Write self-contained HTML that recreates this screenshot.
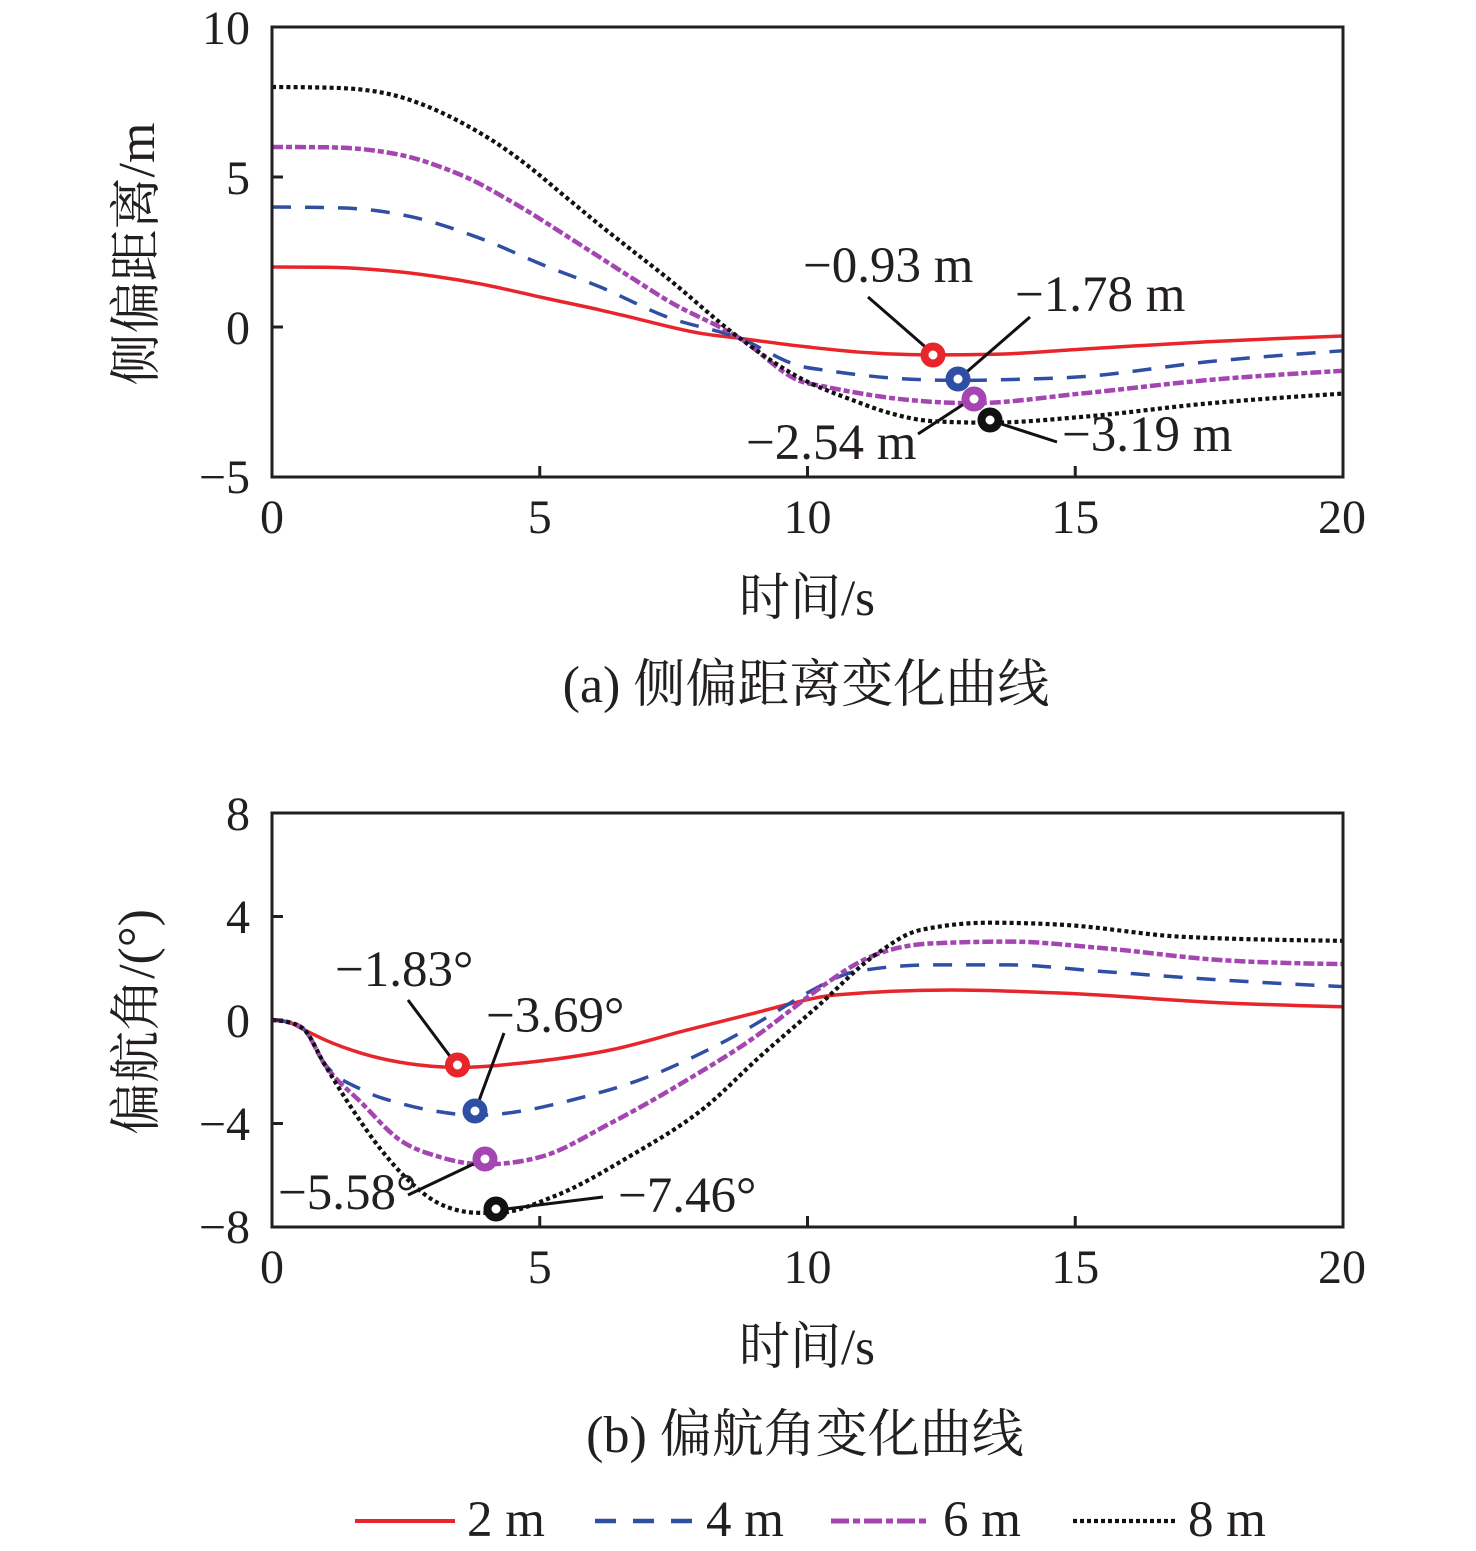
<!DOCTYPE html>
<html><head><meta charset="utf-8">
<style>
html,body{margin:0;padding:0;background:#fff;}
svg{display:block;}
text{font-family:"Liberation Serif","Noto Serif CJK SC",serif;fill:#231f20;}
.tk{font-size:48px;}
.an{font-size:51px;}
.lb{font-size:52px;}
.xl{font-size:51px;}
.cp{font-size:52px;}
.lg{font-size:51px;}
</style></head>
<body>
<svg width="1476" height="1551" viewBox="0 0 1476 1551">
<rect x="0" y="0" width="1476" height="1551" fill="#fff"/>

<!-- ===== TOP CHART ===== -->
<g fill="none" stroke-linejoin="round">
  <path id="t_red" stroke="#e8252a" stroke-width="3.5"/>
  <path id="t_blue" stroke="#2e4fa3" stroke-width="3.5" stroke-dasharray="19 14"/>
  <path id="t_pur" stroke="#a445b2" stroke-width="4.5" stroke-dasharray="11 3 6 3"/>
  <path id="t_blk" stroke="#111" stroke-width="4.2" stroke-dasharray="4 3.2"/>
</g>
<rect x="272" y="27" width="1071" height="450" fill="none" stroke="#231f20" stroke-width="3"/>
<g stroke="#231f20" stroke-width="3">
  <line x1="272" y1="177" x2="283" y2="177"/>
  <line x1="272" y1="327" x2="283" y2="327"/>
  <line x1="539.75" y1="477" x2="539.75" y2="466"/>
  <line x1="807.5" y1="477" x2="807.5" y2="466"/>
  <line x1="1075.25" y1="477" x2="1075.25" y2="466"/>
</g>
<g class="tk" text-anchor="end">
  <text x="250" y="44">10</text>
  <text x="250" y="194">5</text>
  <text x="250" y="344">0</text>
  <text x="250" y="493">−5</text>
</g>
<g class="tk" text-anchor="middle">
  <text x="272" y="533">0</text>
  <text x="539.75" y="533">5</text>
  <text x="807.5" y="533">10</text>
  <text x="1075.25" y="533">15</text>
  <text x="1342" y="533">20</text>
</g>
<text class="lb" text-anchor="middle" transform="translate(154,254) rotate(-90)">侧偏距离/m</text>
<text class="xl" x="807" y="615" text-anchor="middle">时间/s</text>
<text class="cp" x="806" y="702" text-anchor="middle">(a) 侧偏距离变化曲线</text>

<!-- annotations top -->
<g stroke="#111" stroke-width="3">
  <line x1="868" y1="297" x2="930" y2="351"/>
  <line x1="1030" y1="317" x2="962" y2="376"/>
  <line x1="918" y1="434" x2="970" y2="400"/>
  <line x1="992" y1="421" x2="1057" y2="442"/>
</g>
<g class="an">
  <text x="803" y="282">−0.93 m</text>
  <text x="1015" y="311">−1.78 m</text>
  <text x="746" y="459">−2.54 m</text>
  <text x="1062" y="451">−3.19 m</text>
</g>
<g fill="#fff" stroke-width="8">
  <circle cx="933" cy="355" r="8.5" stroke="#e8252a"/>
  <circle cx="958" cy="379" r="8.5" stroke="#2e4fa3"/>
  <circle cx="974" cy="399" r="8.5" stroke="#a445b2"/>
  <circle cx="990" cy="420" r="8.5" stroke="#111"/>
</g>

<!-- ===== BOTTOM CHART ===== -->
<g fill="none" stroke-linejoin="round">
  <path id="b_red" stroke="#e8252a" stroke-width="3.5"/>
  <path id="b_blue" stroke="#2e4fa3" stroke-width="3.5" stroke-dasharray="19 14"/>
  <path id="b_pur" stroke="#a445b2" stroke-width="4.5" stroke-dasharray="11 3 6 3"/>
  <path id="b_blk" stroke="#111" stroke-width="4.2" stroke-dasharray="4 3.2"/>
</g>
<rect x="272" y="813" width="1071" height="414" fill="none" stroke="#231f20" stroke-width="3"/>
<g stroke="#231f20" stroke-width="3">
  <line x1="272" y1="916.5" x2="283" y2="916.5"/>
  <line x1="272" y1="1020" x2="283" y2="1020"/>
  <line x1="272" y1="1123.5" x2="283" y2="1123.5"/>
  <line x1="539.75" y1="1227" x2="539.75" y2="1216"/>
  <line x1="807.5" y1="1227" x2="807.5" y2="1216"/>
  <line x1="1075.25" y1="1227" x2="1075.25" y2="1216"/>
</g>
<g class="tk" text-anchor="end">
  <text x="250" y="830">8</text>
  <text x="250" y="933">4</text>
  <text x="250" y="1037">0</text>
  <text x="250" y="1140">−4</text>
  <text x="250" y="1243">−8</text>
</g>
<g class="tk" text-anchor="middle">
  <text x="272" y="1283">0</text>
  <text x="539.75" y="1283">5</text>
  <text x="807.5" y="1283">10</text>
  <text x="1075.25" y="1283">15</text>
  <text x="1342" y="1283">20</text>
</g>
<text class="lb" text-anchor="middle" transform="translate(154,1022) rotate(-90)">偏航角/(°)</text>
<text class="xl" x="807" y="1364" text-anchor="middle">时间/s</text>
<text class="cp" x="805" y="1452" text-anchor="middle">(b) 偏航角变化曲线</text>

<!-- annotations bottom -->
<g stroke="#111" stroke-width="3">
  <line x1="408" y1="1000" x2="455" y2="1063"/>
  <line x1="504" y1="1033" x2="477" y2="1106"/>
  <line x1="408" y1="1195" x2="482" y2="1160"/>
  <line x1="498" y1="1210" x2="603" y2="1197"/>
</g>
<g class="an">
  <text x="335" y="986">−1.83°</text>
  <text x="486" y="1032">−3.69°</text>
  <text x="278" y="1209">−5.58°</text>
  <text x="618" y="1212">−7.46°</text>
</g>
<g fill="#fff" stroke-width="8">
  <circle cx="457.5" cy="1065" r="8.5" stroke="#e8252a"/>
  <circle cx="475" cy="1111" r="8.5" stroke="#2e4fa3"/>
  <circle cx="485" cy="1159" r="8.5" stroke="#a445b2"/>
  <circle cx="496" cy="1209" r="8.5" stroke="#111"/>
</g>

<!-- ===== LEGEND ===== -->
<line x1="355" y1="1521" x2="455" y2="1521" stroke="#e8252a" stroke-width="4"/>
<text class="lg" x="467" y="1536">2 m</text>
<line x1="595" y1="1521" x2="692" y2="1521" stroke="#2e4fa3" stroke-width="4.5" stroke-dasharray="21 17"/>
<text class="lg" x="706" y="1536">4 m</text>
<line x1="831" y1="1521" x2="928" y2="1521" stroke="#a445b2" stroke-width="5" stroke-dasharray="18 4 7 4"/>
<text class="lg" x="943" y="1536">6 m</text>
<line x1="1073" y1="1521" x2="1175" y2="1521" stroke="#111" stroke-width="4.2" stroke-dasharray="4 3"/>
<text class="lg" x="1188" y="1536">8 m</text>
</svg>

<script>
(function(){
  function X(t){return 272+t*53.55;}
  function YT(v){return 327-v*30;}
  function YB(v){return 1020-v*25.875;}
  function build(data,Y){
    var p=data.map(function(d){return [X(d[0]),Y(d[1])];});
    var n=p.length,h=[],s=[],m=[];
    for(var i=0;i<n-1;i++){h[i]=p[i+1][0]-p[i][0];s[i]=(p[i+1][1]-p[i][1])/h[i];}
    for(var i=1;i<n-1;i++){
      var q=(s[i-1]*h[i]+s[i]*h[i-1])/(h[i-1]+h[i]);
      m[i]=(Math.sign(s[i-1])+Math.sign(s[i]))*Math.min(Math.abs(s[i-1]),Math.abs(s[i]),0.5*Math.abs(q))||0;
    }
    m[0]=n>2?(3*s[0]-m[1])/2:s[0];
    m[n-1]=n>2?(3*s[n-2]-m[n-2])/2:s[n-2];
    var d="M"+p[0][0].toFixed(1)+","+p[0][1].toFixed(1);
    for(var i=0;i<n-1;i++){
      var dx=h[i]/3;
      d+="C"+(p[i][0]+dx).toFixed(1)+","+(p[i][1]+dx*m[i]).toFixed(1)+" "+
         (p[i+1][0]-dx).toFixed(1)+","+(p[i+1][1]-dx*m[i+1]).toFixed(1)+" "+
         p[i+1][0].toFixed(1)+","+p[i+1][1].toFixed(1);
    }
    return d;
  }
  var T={
    t_red:[[0,2],[1,1.99],[2,1.9],[3,1.7],[3.88,1.44],[5.13,0.95],[6.12,0.57],[6.69,0.33],[8,-0.21],[8.74,-0.38],[9.97,-0.66],[11.15,-0.86],[12.34,-0.93],[13.5,-0.91],[15.1,-0.74],[17.47,-0.49],[20,-0.3]],
    t_blue:[[0,4],[1.27,3.97],[2.64,3.66],[3.88,2.96],[5.13,2.02],[6.12,1.34],[7.37,0.34],[8.74,-0.38],[9.86,-1.3],[10.36,-1.45],[11.73,-1.72],[12.79,-1.78],[14,-1.74],[15.1,-1.66],[17.47,-1.16],[20,-0.79]],
    t_pur:[[0,6],[1.02,5.99],[1.96,5.87],[2.58,5.66],[3.2,5.3],[3.64,4.98],[4.5,4.15],[5.75,2.75],[6.69,1.67],[7.37,0.9],[8.74,-0.38],[9.86,-1.8],[10.36,-2.0],[11.94,-2.44],[13.09,-2.54],[15.1,-2.22],[17.47,-1.77],[20,-1.46]],
    t_blk:[[0,8],[1.0,7.98],[1.64,7.92],[2.27,7.73],[2.89,7.36],[3.51,6.84],[4.13,6.2],[4.76,5.4],[5.44,4.4],[6.12,3.4],[6.69,2.6],[7.37,1.65],[8.74,-0.38],[9.86,-1.7],[10.86,-2.45],[11.5,-2.85],[12.34,-3.14],[13.39,-3.19],[15.1,-3.0],[17.47,-2.55],[20,-2.22]]
  };
  var B={
    b_red:[[0,0],[0.3,-0.08],[0.61,-0.39],[1.0,-0.78],[1.68,-1.29],[2.75,-1.74],[3.46,-1.83],[4.89,-1.61],[6.32,-1.16],[7.75,-0.39],[9.11,0.32],[9.66,0.62],[10.54,0.97],[12.69,1.16],[14.83,1.03],[17.69,0.67],[20,0.51]],
    b_blue:[[0,0],[0.3,-0.08],[0.61,-0.39],[0.97,-1.65],[1.68,-2.7],[2.39,-3.22],[3.11,-3.54],[3.79,-3.69],[4.53,-3.56],[5.6,-3.09],[7.03,-2.19],[8.0,-1.3],[8.7,-0.55],[9.4,0.3],[10.0,1.05],[10.9,1.87],[12.33,2.13],[13.76,2.13],[15.54,1.87],[17.69,1.55],[20,1.29]],
    b_pur:[[0,0],[0.3,-0.08],[0.61,-0.39],[0.97,-1.67],[1.68,-3.22],[2.39,-4.64],[3.11,-5.28],[3.96,-5.58],[5.0,-5.3],[6.32,-3.99],[7.75,-2.32],[9.11,-0.52],[9.66,0.34],[10.18,1.16],[11.11,2.38],[12.33,2.96],[13.76,3.03],[15.54,2.77],[17.69,2.32],[20,2.16]],
    b_blk:[[0,0],[0.3,-0.08],[0.61,-0.39],[0.97,-1.67],[1.47,-3.35],[2.04,-5.02],[2.54,-6.18],[3.11,-7.08],[3.82,-7.45],[4.18,-7.46],[5.25,-6.83],[6.67,-5.28],[8.1,-3.35],[9.11,-1.42],[10.18,0.51],[11.26,2.51],[12.11,3.48],[13.4,3.76],[14.83,3.67],[16.97,3.22],[20,3.06]]
  };
  for(var k in T){document.getElementById(k).setAttribute("d",build(T[k],YT));}
  for(var k in B){document.getElementById(k).setAttribute("d",build(B[k],YB));}
})();
</script>
</body></html>
